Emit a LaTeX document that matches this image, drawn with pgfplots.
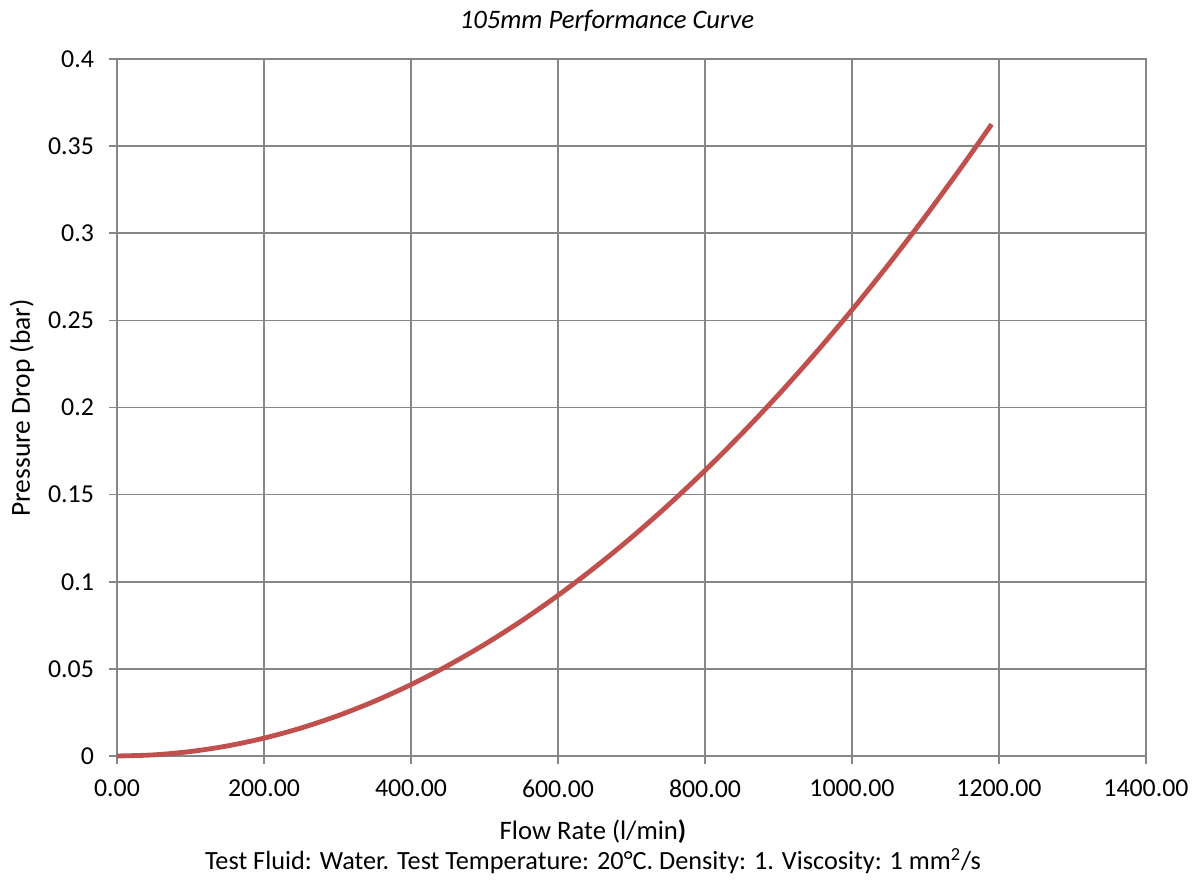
\documentclass[border=0pt]{standalone}
\usepackage{pgfplots}
\pgfplotsset{compat=1.18}
\usepackage{fontspec}
\setmainfont{Carlito}
\definecolor{gridgray}{HTML}{868686}
\definecolor{curvered}{HTML}{C0504D}
\begin{document}
\begin{tikzpicture}[x=0.6pt,y=0.6pt]
\useasboundingbox (-117,-129) rectangle (1084,756);
\begin{axis}[
  at={(0,0)}, anchor=origin,
  scale only axis, width=617.4pt, height=418.2pt,
  xmin=0, xmax=1400, ymin=0, ymax=0.4,
  xtick={0,200,...,1400},
  ytick={0,0.05,0.1,0.15,0.2,0.25,0.3,0.35,0.4},
  yticklabels={0,0.05,0.1,0.15,0.2,0.25,0.3,0.35,0.4},
  xticklabel style={/pgf/number format/.cd,fixed,fixed zerofill,precision=2,1000 sep={}},
  scaled ticks=false,
  /pgf/number format/assume math mode=true,
  ticklabel style={font=\fontsize{15.5}{18}\selectfont},
  grid=major,
  major grid style={gridgray, line width=1pt},
  axis line style={gridgray, line width=1pt},
  tick style={gridgray, line width=1pt},
  xtick pos=bottom, ytick pos=left,
  tick align=outside, major tick length=4.8pt,
  xticklabel shift=6pt,
  yticklabel shift=5.5pt,
  clip=false,
]
\addplot[curvered, line width=2.9pt, smooth] coordinates {
(0,0) (50,0.00064) (100,0.00256) (150,0.00576) (200,0.01024) (250,0.016)
(300,0.02304) (350,0.03136) (400,0.04096) (450,0.05184) (500,0.064)
(550,0.07744) (600,0.09216) (650,0.10816) (700,0.12544) (750,0.144)
(800,0.16384) (850,0.18496) (900,0.20736) (950,0.23104) (1000,0.256)
(1050,0.28224) (1100,0.30976) (1150,0.33856) (1190,0.36252)
};
\end{axis}
\node[font=\fontsize{16}{18}\selectfont\itshape] at (490,735) {105mm Performance Curve};
\node[font=\fontsize{16}{18}\selectfont] at (476,-76) {Flow Rate (l/min\textbf{)}};
\node[font=\fontsize{15.75}{18}\selectfont] at (476,-105) {Test Fluid: Water. Test Temperature: 20°C. Density: 1. Viscosity: 1 mm\textsuperscript{2}/s};
\node[font=\fontsize{16.5}{18}\selectfont, rotate=90] at (-95,348) {Pressure Drop (bar)};
\end{tikzpicture}
\end{document}
